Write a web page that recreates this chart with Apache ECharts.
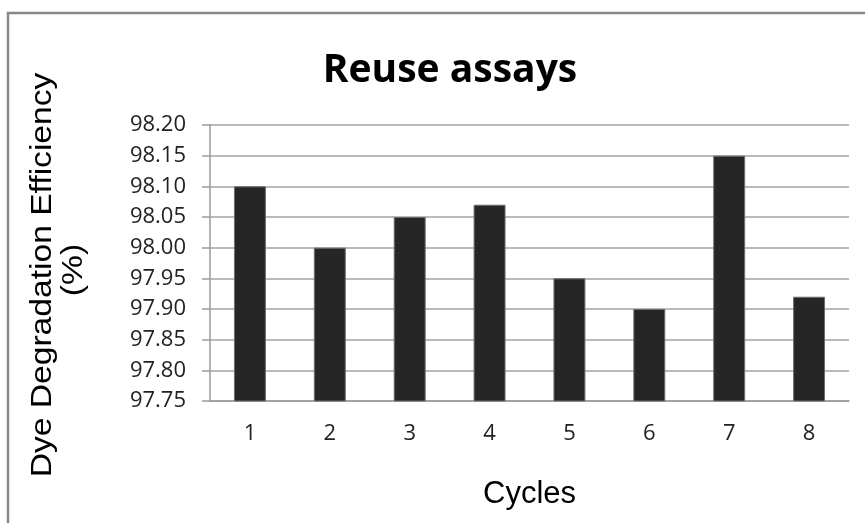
<!DOCTYPE html>
<html>
<head>
<meta charset="utf-8">
<script src="https://cdn.jsdelivr.net/npm/echarts@6/dist/echarts.min.js"></script>
<style>html,body{margin:0;padding:0;background:#fff}#c{width:865px;height:523px}</style>
</head>
<body>
<div id="c"></div>
<script>
const categories = ['1', '2', '3', '4', '5', '6', '7', '8'];
const efficiency = [98.10, 98.00, 98.05, 98.07, 97.95, 97.90, 98.15, 97.92];
const yMin = 97.75, yMax = 98.20, yStep = 0.05;
const yTitle1 = 'Dye Degradation Efficiency';
const yTitle2 = '(%)';

const chart = echarts.init(document.getElementById('c'));
chart.setOption({
  animation: false,
  backgroundColor: '#fff',
  title: {
    text: 'Reuse assays',
    left: 445, top: 46, textAlign: 'center',
    textStyle: { fontFamily: 'Open Sans', fontWeight: 'bold', fontSize: 39, color: '#000' }
  },
  graphic: [{
    type: 'rect', silent: true,
    shape: { x: 8, y: 13, width: 900, height: 600 },
    style: { fill: 'none', stroke: '#878787', lineWidth: 2.5 }
  }, {
    type: 'text', silent: true, x: 43, y: 275, rotation: Math.PI / 2, scaleX: 1.12,
    style: { text: yTitle1, font: '30px "Liberation Sans"', fill: '#000', textAlign: 'center', textVerticalAlign: 'middle' }
  }, {
    type: 'text', silent: true, x: 74, y: 270, rotation: Math.PI / 2, scaleX: 1.12,
    style: { text: yTitle2, font: '30px "Liberation Sans"', fill: '#000', textAlign: 'center', textVerticalAlign: 'middle' }
  }],
  grid: { left: 210, right: 16, top: 125, bottom: 122, containLabel: false },
  xAxis: {
    type: 'category', data: categories,
    name: 'Cycles', nameLocation: 'middle', nameGap: 78,
    nameTextStyle: { fontFamily: 'Liberation Sans', fontSize: 31, color: '#000' },
    axisLine: { lineStyle: { color: '#9a9a9a', width: 1.5 } },
    axisTick: { show: false },
    axisLabel: { fontFamily: 'Open Sans', fontSize: 22, color: '#222', margin: 22 }
  },
  yAxis: {
    type: 'value', min: yMin, max: yMax, interval: yStep,
    axisLine: { show: true, lineStyle: { color: '#9a9a9a', width: 1.5 } },
    axisTick: { show: true, length: 8, lineStyle: { color: '#9a9a9a', width: 1.5 } },
    splitLine: { lineStyle: { color: '#a3a3a3', width: 1.5 } },
    axisLabel: { fontFamily: 'Open Sans', fontSize: 22, color: '#222', margin: 24,
      formatter: v => v.toFixed(2) }
  },
  series: [{
    type: 'bar', data: efficiency, barWidth: '40%',
    itemStyle: { color: '#262626', borderColor: '#6e6e6e', borderWidth: 1 }
  }]
});
</script>
</body>
</html>
